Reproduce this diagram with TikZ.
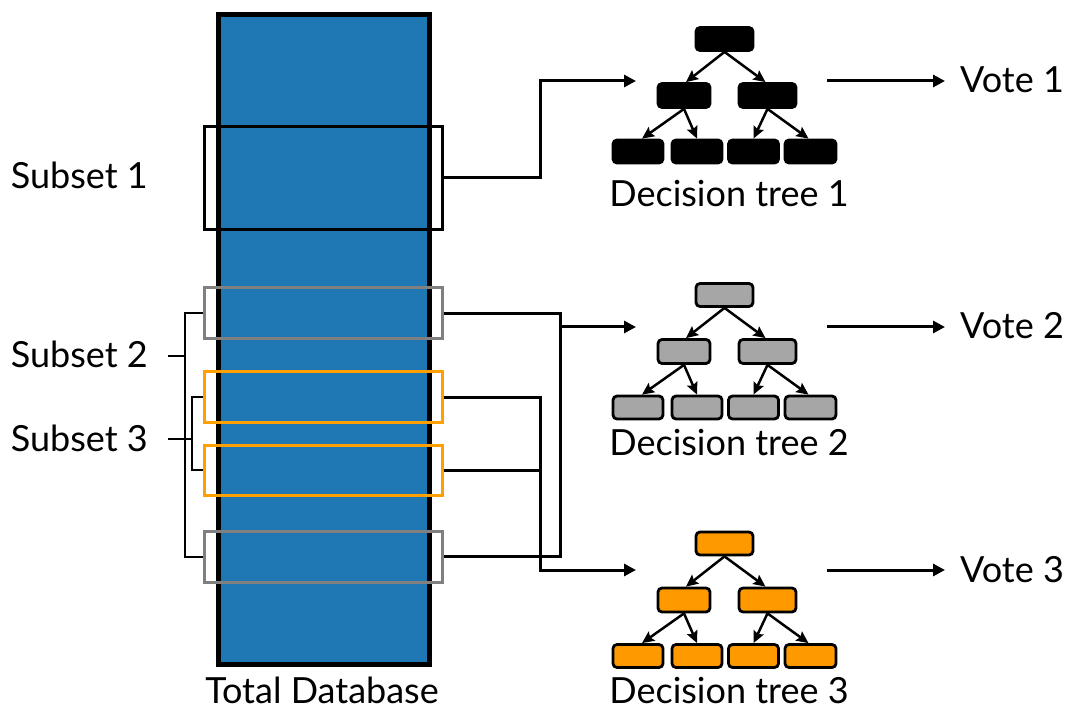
\documentclass[tikz,border=0pt]{standalone}
\usepackage{fontspec}
\setmainfont{Lato}
\usetikzlibrary{arrows.meta,calc}
\definecolor{dbblue}{HTML}{1F77B4}
\definecolor{treegrey}{HTML}{A6A6A6}
\definecolor{treeorange}{HTML}{FF9900}
\definecolor{boxgrey}{HTML}{808080}
\definecolor{boxorange}{HTML}{FFA000}
\tikzset{
  lbl/.style={inner sep=0pt, font=\fontsize{36}{42}\selectfont},
  subbox/.style={draw, line width=3pt, minimum width=238pt, inner sep=0pt},
  conn/.style={line width=3pt},
  mainarrow/.style={conn, -{Triangle[length=12pt,width=12pt]}},
  bracket/.style={line width=2pt},
  tnode/.style={draw, line width=2.8pt, rounded corners=4pt, minimum height=23pt, inner sep=0pt},
  tarrow/.style={line width=2.5pt, -{Stealth[length=12pt,width=11pt,inset=2pt]}},
}
\begin{document}
\begin{tikzpicture}[x=1pt,y=-1pt]
\useasboundingbox (0,0) rectangle (1069,711);
% database
\node[draw, line width=5pt, fill=dbblue, minimum width=211pt, minimum height=650pt, inner sep=0pt] (db) at (323.5,339.5) {};
\node[lbl, anchor=base] (dblbl) at (322,703) {Total Database};
% subset boxes
\node[subbox, black, minimum height=103pt] (s1) at (323,178) {};
\node[subbox, boxgrey, minimum height=51pt] (g1) at (323,313.5) {};
\node[subbox, boxgrey, minimum height=51pt] (g2) at (323,556.5) {};
\node[subbox, boxorange, minimum height=51pt] (o1) at (323,397.5) {};
\node[subbox, boxorange, minimum height=50pt] (o2) at (323,470) {};
% left labels and brackets
\node[lbl, anchor=base east] (l1) at (148,189) {Subset 1};
\node[lbl, anchor=base east] (l2) at (148,368) {Subset 2};
\node[lbl, anchor=base east] (l3) at (148,451) {Subset 3};
\coordinate (bg) at (185,356);
\coordinate (bo) at (192,439);
\draw[bracket] (g1.west) -| (bg) |- (g2.west);
\draw[bracket] (o1.west) -| (bo) |- (o2.west);
\draw[bracket] (168,356) -- (bg);
\draw[bracket] (168,439) -- (bo);
% arrow targets
\coordinate (t1) at (636,81);
\coordinate (t2) at (636,327);
\coordinate (t3) at (636,570);
\coordinate (j2) at (560,327);
\coordinate (j3) at (540,570);
% connectors
\draw[mainarrow] (s1.east) -- (540,178) |- (t1);
\draw[conn] (g1.east) -| (j2) -- (j2 |- g2.east) -- (g2.east);
\draw[mainarrow] (j2) -- (t2);
\draw[mainarrow] (o1.east) -| (j3) -- (t3);
\draw[conn] (o2.east) -- (o2.east -| j3);
% trees
\foreach \t/\c/\dy/\ly in {1/black/0/207, 2/treegrey/256/455, 3/treeorange/504.5/703}{
  \begin{scope}[yshift=-\dy pt]
    \node[tnode, fill=\c, minimum width=57pt] (r\t) at (724.5,39) {};
    \node[tnode, fill=\c, minimum width=52pt, minimum height=24pt] (a\t) at (684,95.5) {};
    \node[tnode, fill=\c, minimum width=57pt, minimum height=24pt] (b\t) at (767.5,95.5) {};
    \node[tnode, fill=\c, minimum width=50pt] (c\t) at (638,151.5) {};
    \node[tnode, fill=\c, minimum width=50pt] (d\t) at (697,151.5) {};
    \node[tnode, fill=\c, minimum width=50pt] (e\t) at (753.5,151.5) {};
    \node[tnode, fill=\c, minimum width=51pt] (f\t) at (810.5,151.5) {};
    \draw[tarrow] (r\t.south) -- ([xshift=2pt]a\t.north);
    \draw[tarrow] (r\t.south) -- ([xshift=-2pt]b\t.north);
    \draw[tarrow] (a\t.south) -- ([xshift=4pt]c\t.north);
    \draw[tarrow] (a\t.south) -- (d\t.north);
    \draw[tarrow] (b\t.south) -- (e\t.north);
    \draw[tarrow] (b\t.south) -- ([xshift=-2pt]f\t.north);
  \end{scope}
  \node[lbl, anchor=base] (dt\t) at (729,\ly) {Decision tree \t};
}
% votes
\coordinate (vs1) at (827,81);
\coordinate (vs2) at (827,327);
\coordinate (vs3) at (827,570);
\coordinate (ve1) at (945,81);
\coordinate (ve2) at (945,327);
\coordinate (ve3) at (945,570);
\node[lbl, anchor=base west] (v1) at (960,93) {Vote 1};
\node[lbl, anchor=base west] (v2) at (960,339) {Vote 2};
\node[lbl, anchor=base west] (v3) at (960,582) {Vote 3};
\draw[mainarrow] (vs1) -- (ve1);
\draw[mainarrow] (vs2) -- (ve2);
\draw[mainarrow] (vs3) -- (ve3);
\end{tikzpicture}
\end{document}
